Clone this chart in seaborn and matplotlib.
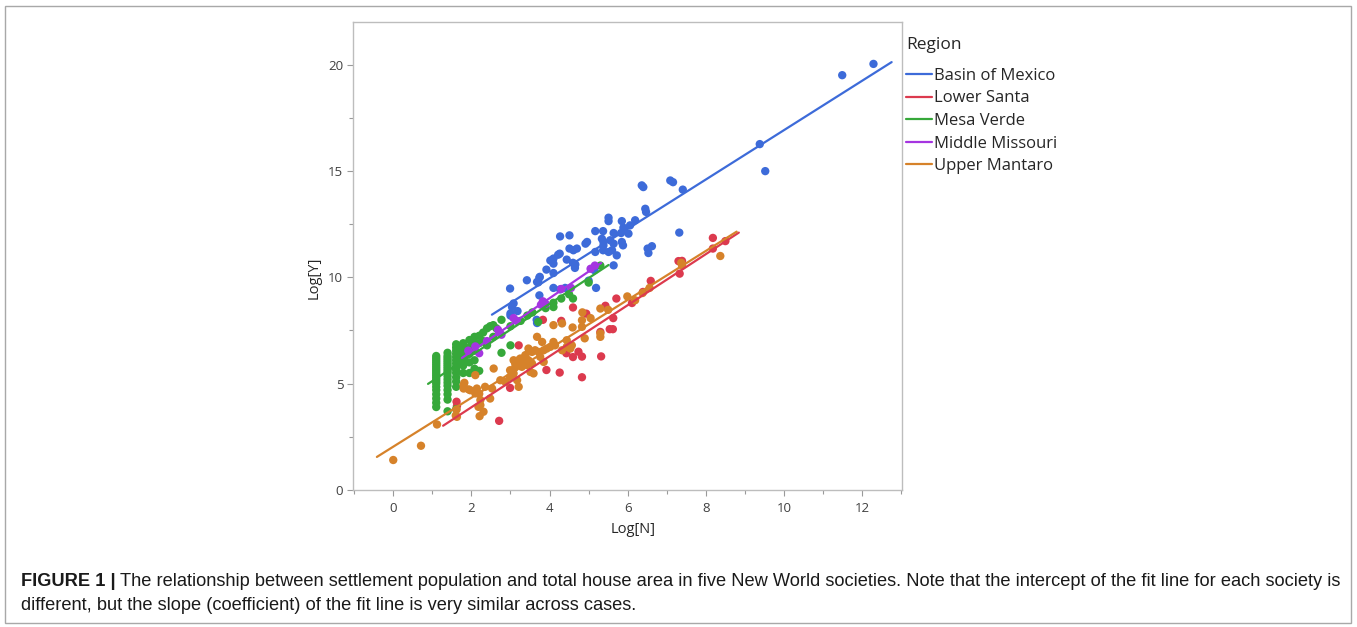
import numpy as np
import pandas as pd
import matplotlib
matplotlib.use('Agg')
import matplotlib.pyplot as plt
import seaborn as sns
from matplotlib.lines import Line2D
from matplotlib.patches import Rectangle
from matplotlib.ticker import MultipleLocator

sns.set_style('ticks')
plt.rcParams['font.family'] = ['Open Sans', 'DejaVu Sans']

# 各区域名称与颜色
regions = ['Basin of Mexico', 'Lower Santa', 'Mesa Verde', 'Middle Missouri', 'Upper Mantaro']
region_colors = ['#3d6bd9', '#dc3a4e', '#36a83a', '#a535e0', '#d6822a']

# Basin of Mexico
basin_x = [12.29, 11.49, 9.38, 9.52, 7.09, 7.16, 7.41, 6.36, 6.40, 6.45, 6.47, 7.32, 6.51, 6.62, 6.53,
           5.51, 5.51, 5.85, 5.89, 6.06, 6.19, 5.17, 5.37, 5.64, 5.83, 6.02, 4.96, 5.34, 5.38, 5.38,
           5.37, 5.55, 5.64, 5.60, 5.51, 5.72, 5.85, 5.88, 4.51, 4.61, 4.70, 4.51, 4.44, 4.66, 5.17,
           5.64, 4.27, 4.26, 4.10, 4.10, 3.92, 3.74, 3.68, 3.42, 4.10, 4.10, 4.27, 4.40, 2.99, 3.04,
           3.00, 3.18, 3.00, 3.67, 3.74, 3.08, 4.65, 4.60, 5.15, 5.00, 5.19, 4.02, 4.22, 4.92, 3.68,
           3.71, 3.75]
basin_y = [20.03, 19.50, 16.26, 14.99, 14.55, 14.47, 14.12, 14.32, 14.24, 13.22, 13.07, 12.10, 11.35, 11.46, 11.14,
           12.80, 12.64, 12.64, 12.33, 12.44, 12.68, 12.17, 12.17, 12.08, 12.08, 12.05, 11.66, 11.81, 11.66, 11.50,
           11.27, 11.74, 11.58, 11.27, 11.19, 11.03, 11.66, 11.50, 11.97, 11.27, 11.35, 11.35, 10.83, 10.60, 11.19,
           10.56, 11.92, 11.11, 10.88, 10.64, 10.36, 9.98, 9.78, 9.86, 10.20, 9.50, 9.43, 9.50, 9.47, 8.60,
           8.30, 8.41, 8.20, 8.00, 9.15, 8.77, 10.44, 10.68, 10.33, 9.84, 9.50, 10.79, 11.06, 11.58, 7.85,
           9.76, 10.02]

# Lower Santa
santa_x = [1.62, 1.63, 2.71, 2.99, 3.21, 3.83, 3.92, 4.30, 4.26, 4.43, 4.60, 4.60, 4.74, 4.83, 4.83, 4.94,
           5.30, 5.32, 5.43, 5.54, 5.62, 5.63, 5.71, 6.11, 6.39, 6.59, 7.33, 7.30, 7.39, 8.18, 8.18, 8.50]
santa_y = [4.15, 3.95, 3.25, 4.80, 6.80, 8.00, 5.64, 7.95, 5.52, 6.43, 8.58, 6.25, 6.50, 5.30, 6.27, 8.29,
           7.43, 6.28, 8.66, 7.56, 7.56, 8.08, 9.00, 8.79, 9.31, 9.83, 10.17, 10.76, 10.77, 11.85, 11.35, 11.70]

# Mesa Verde
mesa_x = [1.10] * 20 + [1.39] * 18 + [1.61] * 14 + [1.79] * 7 + [1.95] * 5 + [2.08] * 5 + [2.20] * 3 + \
         [2.30, 2.30, 2.40, 2.40, 2.48, 2.56, 2.56, 2.64, 2.77, 2.77, 3.00, 3.00, 3.26, 3.43, 3.56,
          3.71, 3.90, 4.10, 4.10, 4.30, 4.50, 4.60, 5.00, 5.30]
mesa_y = [3.90, 4.10, 4.30, 4.50, 4.70, 4.85, 5.00, 5.10, 5.20, 5.30, 5.40, 5.50, 5.60, 5.70, 5.80,
          5.90, 6.00, 6.10, 6.20, 6.30,
          3.70, 4.25, 4.50, 4.70, 4.90, 5.05, 5.20, 5.35, 5.50, 5.60, 5.70, 5.80, 5.90, 6.00, 6.10,
          6.20, 6.30, 6.45,
          3.80, 4.85, 5.10, 5.30, 5.50, 5.65, 5.80, 5.95, 6.10, 6.25, 6.40, 6.55, 6.70, 6.85,
          5.50, 5.85, 6.10, 6.30, 6.50, 6.70, 6.90,
          5.50, 6.00, 6.40, 6.70, 7.05,
          5.70, 6.10, 6.55, 6.95, 7.20,
          5.60, 6.90, 7.25,
          7.00, 7.40, 6.80, 7.60, 7.70, 7.20, 7.75, 7.60, 6.45, 8.00, 6.80, 7.70, 7.95, 8.20, 8.35,
          7.90, 8.55, 8.60, 8.80, 9.00, 9.20, 9.00, 9.75, 10.55]

# Middle Missouri
missouri_x = [1.92, 2.20, 2.10, 2.40, 2.68, 2.71, 2.77, 3.08, 3.16, 3.78, 3.83, 3.90, 4.30, 4.55, 5.05, 5.16]
missouri_y = [6.55, 6.43, 6.75, 7.00, 7.53, 7.40, 7.30, 8.08, 7.95, 8.71, 8.87, 8.75, 9.45, 9.50, 10.40, 10.55]

# Upper Mantaro
mantaro_x = [0.00, 0.71, 1.12, 1.63, 1.60, 1.62, 1.80, 1.80, 1.82, 1.93, 1.97, 2.10, 2.10, 2.14, 2.20,
             2.23, 2.23, 2.31, 2.21, 2.18, 2.35, 2.48, 2.53, 2.57, 2.74, 2.87, 2.99, 3.12, 3.21, 3.25,
             3.38, 3.38, 3.29, 3.08, 3.46, 3.08, 3.21, 3.38, 3.46, 3.42, 3.29, 3.12, 2.99, 3.17, 3.21,
             3.55, 3.63, 3.72, 3.85, 3.76, 3.68, 3.81, 3.55, 3.51, 3.59, 3.85, 3.93, 4.02, 4.10, 4.32,
             4.10, 4.14, 4.32, 4.44, 4.53, 4.44, 4.57, 4.83, 4.83, 5.30, 5.30, 5.30, 5.05, 4.84, 4.59,
             4.90, 6.56, 6.38, 5.99, 5.50, 8.37, 7.37, 7.39, 6.19]
mantaro_y = [1.41, 2.08, 3.08, 3.44, 3.50, 3.78, 4.93, 4.77, 5.04, 4.73, 4.69, 4.54, 5.40, 4.77, 4.52,
             4.23, 3.99, 3.68, 3.47, 3.91, 4.85, 4.30, 4.77, 5.71, 5.16, 5.08, 5.32, 5.95, 6.10, 6.18,
             6.34, 6.02, 5.79, 5.48, 6.65, 6.10, 6.02, 6.26, 6.10, 5.87, 5.87, 5.76, 5.63, 5.16, 4.85,
             6.49, 6.57, 6.49, 6.57, 6.26, 7.20, 6.96, 5.95, 5.55, 5.48, 6.02, 6.65, 6.73, 7.75, 7.83,
             6.96, 6.80, 6.57, 6.73, 6.65, 7.04, 6.80, 7.98, 7.67, 8.53, 7.36, 7.20, 8.08, 8.35, 7.64,
             7.13, 9.50, 9.26, 9.10, 8.47, 11.00, 10.68, 10.56, 8.92]

caption_1 = ('The relationship between settlement population and total house area in five New World '
             'societies. Note that the intercept of the fit line for each society is')
caption_2 = 'different, but the slope (coefficient) of the fit line is very similar across cases.'

frames = []
for name, xs, ys in zip(regions,
                        [basin_x, santa_x, mesa_x, missouri_x, mantaro_x],
                        [basin_y, santa_y, mesa_y, missouri_y, mantaro_y]):
    frames.append(pd.DataFrame({'LogN': xs, 'LogY': ys, 'Region': name}))
df = pd.concat(frames, ignore_index=True)
palette = dict(zip(regions, region_colors))

W, H = 1357, 627
fig = plt.figure(figsize=(W / 100, H / 100), dpi=100)
ax = fig.add_axes([353 / W, 1 - 490 / H, 549 / W, 468 / H])

sns.scatterplot(data=df, x='LogN', y='LogY', hue='Region', palette=palette, s=36,
                edgecolor='none', linewidth=0, legend=False, ax=ax, zorder=2)

# 拟合线 (两端各延伸 5% 数据范围)
for name in regions:
    sub = df[df['Region'] == name]
    slope, icpt = np.polyfit(sub['LogN'], sub['LogY'], 1)
    pad = 0.05 * (sub['LogN'].max() - sub['LogN'].min())
    xs = np.array([sub['LogN'].min() - pad, sub['LogN'].max() + pad])
    ax.plot(xs, icpt + slope * xs, color=palette[name], lw=1.6, zorder=3)

ax.set_xlim(-1.03, 13.02)
ax.set_ylim(0, 22)
ax.set_xticks(range(0, 13, 2))
ax.set_yticks(range(0, 21, 5))
ax.xaxis.set_minor_locator(MultipleLocator(1))
ax.yaxis.set_minor_locator(MultipleLocator(2.5))
ax.tick_params(which='major', length=4, width=0.8, color='#9a9a9a', labelsize=9.5,
               labelcolor='#404040', pad=3)
ax.tick_params(axis='x', which='major', pad=4.5)
ax.tick_params(which='minor', length=3, width=0.8, color='#9a9a9a')
for sp in ax.spines.values():
    sp.set_color('#bdbdbd')
    sp.set_linewidth(1)

ax.set_xlabel('Log[N]', fontsize=10.5, color='#262626')
ax.set_ylabel('Log[Y]', fontsize=10.5, color='#262626')
ax.xaxis.set_label_coords(0.51, -0.068)
ax.yaxis.set_label_coords(-0.058, 0.453)

# 图例 (标题单独绘制, 与条目间距更大)
fig.text(906 / W, 1 - 45 / H, 'Region', fontsize=12.5, va='center', ha='left', color='#262626')
handles = [Line2D([0], [0], color=palette[r], lw=1.6) for r in regions]
fig.legend(handles, regions, loc='upper left',
           bbox_to_anchor=(906 / W, 1 - 68 / H), frameon=False, fontsize=12,
           handlelength=1.55, handletextpad=0.12,
           labelspacing=0.39, borderpad=0, borderaxespad=0,
           labelcolor='#262626')

# 外框
fig.patches.append(Rectangle((5 / W, 4 / H), 1346 / W, 617 / H, transform=fig.transFigure,
                             fill=False, edgecolor='#a8a8a8', lw=1))

cap_font = ['Liberation Sans', 'DejaVu Sans']
cap_size = 13.15
t_bold = fig.text(21 / W, 1 - 581 / H, 'FIGURE 1 |', family=cap_font, weight='bold',
                  fontsize=cap_size, va='center', color='#1a1a1a')
fig.canvas.draw()
bb = t_bold.get_window_extent()
fig.text(bb.x1 / W + 4 / W, 1 - 581 / H, caption_1, family=cap_font, fontsize=cap_size,
         va='center', color='#1a1a1a')
fig.text(21 / W, 1 - 606 / H, caption_2, family=cap_font, fontsize=cap_size,
         va='center', color='#1a1a1a')

fig.savefig('out.png', dpi=100)
plt.close(fig)
